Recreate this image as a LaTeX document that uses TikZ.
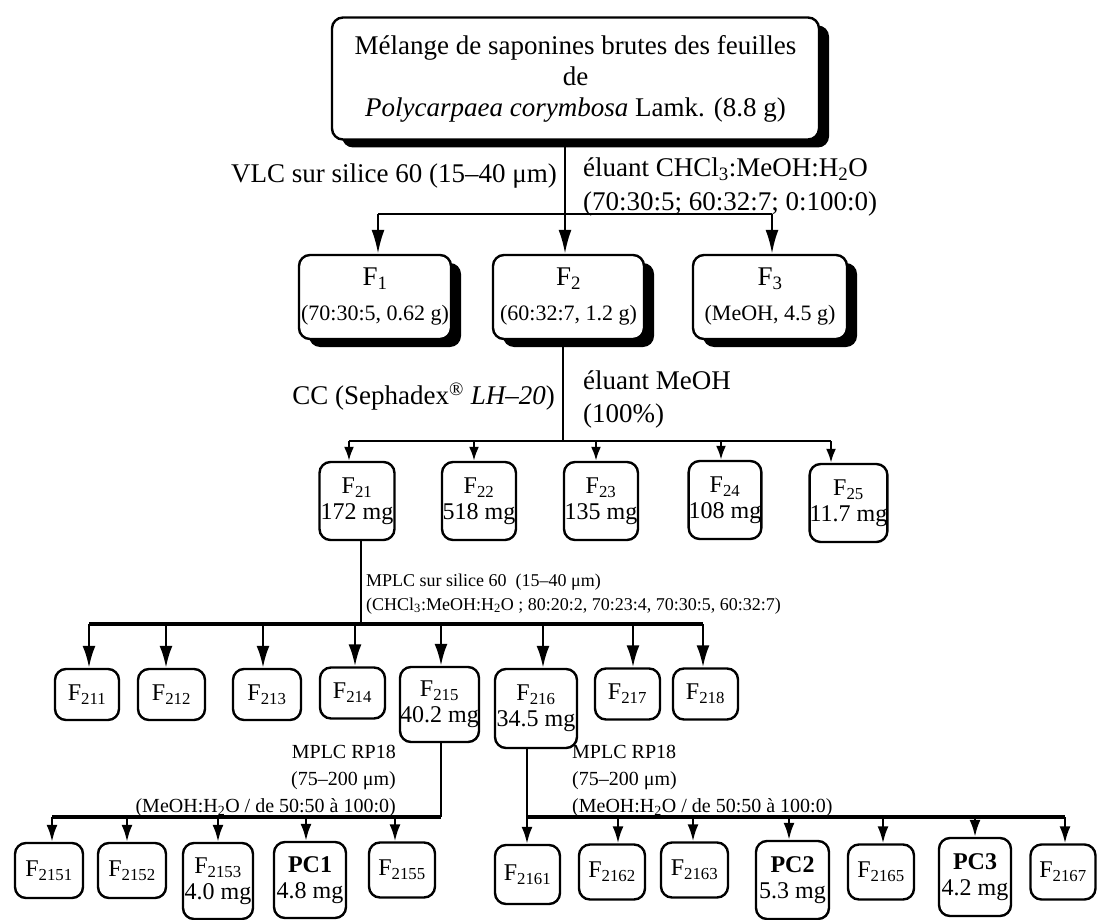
\documentclass[tikz,border=0pt]{standalone}
\usepackage{fontspec}
\setmainfont{Liberation Serif}
\usetikzlibrary{arrows.meta,shadows}
\begin{document}
\begin{tikzpicture}[x=1pt,y=-1pt,
  box/.style={draw,line width=2.4pt,rounded corners=11pt,fill=white,inner sep=0pt,align=center},
  sbox/.style={box,drop shadow={shadow xshift=10pt,shadow yshift=-8pt,fill=black,opacity=1}},
  big/.style={font=\fontsize{27}{31}\selectfont},
  mid/.style={font=\fontsize{24}{26}\selectfont},
  trunk/.style={line width=1.5pt},
  arrA/.style={line width=2.4pt,-{Latex[length=24pt,width=13pt]}},
  arrB/.style={line width=2.4pt,-{Latex[length=14pt,width=10pt]}},
  arrC/.style={line width=2.6pt,-{Latex[length=22pt,width=13pt]}},
  arrD/.style={line width=2.4pt,-{Latex[length=17pt,width=11pt]}}]
\useasboundingbox (0,0) rectangle (1097,920);

% ---- top
\node[sbox,big,minimum width=487pt,minimum height=122pt] (top) at (575.5,78.5)
  {Mélange de saponines brutes des feuilles\\de\\\textit{Polycarpaea corymbosa} Lamk. (8.8 g)};

\node[sbox,big,minimum width=152pt,minimum height=84pt] (F1) at (375,297)
  {F\textsubscript{1}\\[4pt]{\fontsize{22}{26}\selectfont (70:30:5, 0.62 g)}};
\node[sbox,big,minimum width=151pt,minimum height=84pt] (F2) at (568.5,297)
  {F\textsubscript{2}\\[4pt]{\fontsize{22}{26}\selectfont (60:32:7, 1.2 g)}};
\node[sbox,big,minimum width=154pt,minimum height=84pt] (F3) at (770,297)
  {F\textsubscript{3}\\[4pt]{\fontsize{22}{26}\selectfont (MeOH, 4.5 g)}};

\node[big,anchor=east,inner sep=0pt] (vlc) at (557,176) {VLC sur silice 60 (15–40 μm)};
\node[big,anchor=west,align=left,inner sep=0pt,font=\fontsize{27}{34}\selectfont] (elu) at (583,187)
  {éluant CHCl\textsubscript{3}:MeOH:H\textsubscript{2}O\\(70:30:5; 60:32:7; 0:100:0)};

\coordinate (b1) at (378,214);
\coordinate (b2) at (565,214);
\coordinate (b3) at (772,214);
\draw[trunk] (top.south -| b2) -- (b2);
\draw[line width=2pt] (b1) -- (b3);
\draw[arrA] (b1) -- (b1 |- F1.north);
\draw[arrA] (b2) -- (b2 |- F2.north);
\draw[arrA] (b3) -- (b3 |- F3.north);

% ---- second level
\node[big,anchor=east,inner sep=0pt] (cc) at (555,397) {CC (Sephadex\textsuperscript{®} \textit{LH–20})};
\node[big,anchor=west,align=left,inner sep=0pt,font=\fontsize{27}{33}\selectfont] (elm) at (583,399)
  {éluant MeOH\\(100\%)};

\node[box,mid,minimum width=75pt,minimum height=78pt] (F21) at (357,501) {F\textsubscript{21}\\172 mg};
\node[box,mid,minimum width=74pt,minimum height=78pt] (F22) at (479,501) {F\textsubscript{22}\\518 mg};
\node[box,mid,minimum width=74pt,minimum height=78pt] (F23) at (601,501) {F\textsubscript{23}\\135 mg};
\node[box,mid,minimum width=72pt,minimum height=78pt] (F24) at (725,500) {F\textsubscript{24}\\108 mg};
\node[box,mid,minimum width=73pt,minimum height=78pt] (F25) at (848.5,503) {F\textsubscript{25}\\11.7 mg};

\coordinate (c1) at (349,441);
\coordinate (c2) at (474,441);
\coordinate (c3) at (596,441);
\coordinate (c4) at (721,441);
\coordinate (c5) at (831,441);
\coordinate (cm) at (563,441);
\draw[trunk] (F2.south -| cm) -- (cm);
\draw[line width=2.6pt] (c1) -- (c5);
\foreach \i in {1,...,5} \draw[arrB] (c\i) -- (c\i |- F2\i.north);

% ---- third level
\node[anchor=west,align=left,inner sep=0pt,font=\fontsize{18}{24}\selectfont] (mplc) at (366,594)
  {MPLC sur silice 60\ \ (15–40 μm)\\(CHCl\textsubscript{3}:MeOH:H\textsubscript{2}O ; 80:20:2, 70:23:4, 70:30:5, 60:32:7)};

\node[box,mid,minimum width=64pt,minimum height=51pt] (F211) at (87,694.5) {F\textsubscript{211}};
\node[box,mid,minimum width=67pt,minimum height=51pt] (F212) at (171.5,694.5) {F\textsubscript{212}};
\node[box,mid,minimum width=68pt,minimum height=51pt] (F213) at (267,694.5) {F\textsubscript{213}};
\node[box,mid,minimum width=65pt,minimum height=51pt] (F214) at (352.5,693) {F\textsubscript{214}};
\node[box,mid,minimum width=79pt,minimum height=75pt] (F215) at (439.5,704.5) {F\textsubscript{215}\\40.2 mg};
\node[box,mid,minimum width=82pt,minimum height=79pt] (F216) at (536,708.5) {F\textsubscript{216}\\34.5 mg};
\node[box,mid,minimum width=65pt,minimum height=51pt] (F217) at (627.5,694) {F\textsubscript{217}};
\node[box,mid,minimum width=65pt,minimum height=51pt] (F218) at (705.5,694) {F\textsubscript{218}};

\coordinate (d1) at (89,624);
\coordinate (d2) at (166,624);
\coordinate (d3) at (263,624);
\coordinate (d4) at (355,624);
\coordinate (d5) at (441,624);
\coordinate (d6) at (543,624);
\coordinate (d7) at (633,624);
\coordinate (d8) at (703,624);
\coordinate (dm) at (361,624);
\draw[trunk] (F21.south -| dm) -- (dm);
\draw[line width=4pt] (d1) -- (d8);
\foreach \i in {1,...,8} \draw[arrC] (d\i) -- (d\i |- F21\i.north);

% ---- fourth level, left
\node[anchor=east,align=right,inner sep=0pt,font=\fontsize{20}{27}\selectfont] (rpl) at (396,781)
  {MPLC RP18\\(75–200 μm)\\(MeOH:H\textsubscript{2}O / de 50:50 à 100:0)};

\node[box,mid,minimum width=68pt,minimum height=55pt] (F2151) at (49,870.5) {F\textsubscript{2151}};
\node[box,mid,minimum width=68pt,minimum height=55pt] (F2152) at (132,870.5) {F\textsubscript{2152}};
\node[box,mid,minimum width=70pt,minimum height=76pt] (F2153) at (218,881) {F\textsubscript{2153}\\4.0 mg};
\node[box,mid,minimum width=72pt,minimum height=76pt] (PC1) at (310,880) {\textbf{PC1}\\4.8 mg};
\node[box,mid,minimum width=66pt,minimum height=55pt] (F2155) at (402,870) {F\textsubscript{2155}};

\coordinate (e1) at (52,817);
\coordinate (e2) at (127,817);
\coordinate (e3) at (218,817);
\coordinate (e4) at (306,817);
\coordinate (e5) at (395,817);
\coordinate (em) at (441,817);
\draw[line width=2pt] (F215.south -| em) -- (em);
\draw[line width=4pt] (e1) -- (em);
\draw[arrD] (e1) -- (e1 |- F2151.north);
\draw[arrD] (e2) -- (e2 |- F2152.north);
\draw[arrD] (e3) -- (e3 |- F2153.north);
\draw[arrD] (e4) -- (e4 |- PC1.north);
\draw[arrD] (e5) -- (e5 |- F2155.north);

% ---- fourth level, right
\node[anchor=west,align=left,inner sep=0pt,font=\fontsize{20}{27}\selectfont] (rpr) at (572,781)
  {MPLC RP18\\(75–200 μm)\\(MeOH:H\textsubscript{2}O / de 50:50 à 100:0)};

\node[box,mid,minimum width=65pt,minimum height=59pt] (F2161) at (527.5,874.5) {F\textsubscript{2161}};
\node[box,mid,minimum width=66pt,minimum height=55pt] (F2162) at (612,872) {F\textsubscript{2162}};
\node[box,mid,minimum width=67pt,minimum height=55pt] (F2163) at (694.5,870) {F\textsubscript{2163}};
\node[box,mid,minimum width=73pt,minimum height=78pt] (PC2) at (792.5,880) {\textbf{PC2}\\5.3 mg};
\node[box,mid,minimum width=66pt,minimum height=55pt] (F2165) at (881,872) {F\textsubscript{2165}};
\node[box,mid,minimum width=72pt,minimum height=78pt] (PC3) at (975,877) {\textbf{PC3}\\4.2 mg};
\node[box,mid,minimum width=65pt,minimum height=55pt] (F2167) at (1063,872) {F\textsubscript{2167}};

\coordinate (g1) at (527,817);
\coordinate (g2) at (618,817);
\coordinate (g3) at (693,817);
\coordinate (g4) at (789,817);
\coordinate (g5) at (883,817);
\coordinate (g6) at (975,817);
\coordinate (g7) at (1065,817);
\draw[arrD] (F216.south -| g1) -- (g1 |- F2161.north);
\draw[line width=4pt] (g1) -- (g7);
\draw[arrD] (g2) -- (g2 |- F2162.north);
\draw[arrD] (g3) -- (g3 |- F2163.north);
\draw[arrD] (g4) -- (g4 |- PC2.north);
\draw[arrD] (g5) -- (g5 |- F2165.north);
\draw[arrD] (g6) -- (g6 |- PC3.north);
\draw[arrD] (g7) -- (g7 |- F2167.north);
\end{tikzpicture}
\end{document}
